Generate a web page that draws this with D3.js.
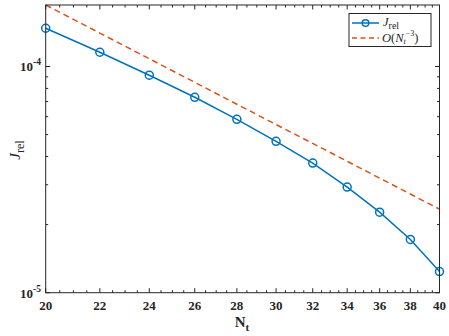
<!DOCTYPE html>
<html>
<head>
<meta charset="utf-8">
<script src="https://cdn.jsdelivr.net/npm/d3@7"></script>
<style>
  body { margin: 0; background: #fff; }
  svg text { font-family: 'Liberation Serif', 'DejaVu Serif', serif; fill: #262626; }
</style>
</head>
<body>
<script>
'use strict';

// chart values
let nValues = [20, 22, 24, 26, 28, 30, 32, 34, 36, 38, 40];
let jRel = [1.476e-4, 1.156e-4, 9.15e-5, 7.31e-5, 5.84e-5, 4.67e-5, 3.74e-5, 2.93e-5, 2.27e-5, 1.72e-5, 1.24e-5];
let refOrder = [1.87e-4, 1.405e-4, 1.082e-4, 8.51e-5, 6.81e-5, 5.54e-5, 4.57e-5, 3.81e-5, 3.21e-5, 2.73e-5, 2.34e-5];
let xTicks = [20, 22, 24, 26, 28, 30, 32, 34, 36, 38, 40];
let yTicks = [1e-5, 1e-4];
let yTickExp = ["-5", "-4"];
let yMinor = [2e-5, 3e-5, 4e-5, 5e-5, 6e-5, 7e-5, 8e-5, 9e-5];

(function() {

  let width = 449, height = 336;
  let plot = {left: 45.7, right: 439.5, top: 5, bottom: 292.7};
  let blue = "#0072BD", orange = "#D95319", axisColor = "#262626";
  let serif = "'Liberation Serif', 'DejaVu Serif', serif";

  let svg = d3.select('body')
    .append('svg')
    .attr('width', width)
    .attr('height', height)
    .attr('font-family', serif);

  let xScale = d3.scaleLog()
    .domain([20, 40])
    .range([plot.left, plot.right]);

  let yScale = d3.scaleLog()
    .domain([1e-5, 1.87e-4])
    .range([plot.bottom, plot.top]);

  // minor x ticks every 0.5
  let xMinor = d3.range(20.5, 40, 0.5).filter((v) => v % 2 != 0);

  let line = d3.line()
    .x((d, i) => xScale(nValues[i]))
    .y((d) => yScale(d));

  // reference line O(N^-3)
  svg.append('path')
    .datum(refOrder)
    .attr('fill', 'none')
    .attr('stroke', orange)
    .attr('stroke-width', 1.5)
    .attr('stroke-dasharray', '6,4')
    .attr('d', line);

  // J_rel line + markers
  svg.append('path')
    .datum(jRel)
    .attr('fill', 'none')
    .attr('stroke', blue)
    .attr('stroke-width', 1.5)
    .attr('d', line);

  svg.selectAll('.dot')
    .data(jRel)
    .enter()
    .append('circle')
      .attr('class', 'dot')
      .attr('cx', (d, i) => xScale(nValues[i]))
      .attr('cy', (d) => yScale(d))
      .attr('r', 4)
      .attr('fill', 'none')
      .attr('stroke', blue)
      .attr('stroke-width', 1.5);

  // axes box
  let axes = svg.append('g')
    .attr('stroke', axisColor)
    .attr('stroke-width', 1);

  // x ticks (bottom + top, pointing inward)
  function xTick(v, len) {
    let x = xScale(v);
    axes.append('line').attr('x1', x).attr('x2', x)
      .attr('y1', plot.bottom).attr('y2', plot.bottom - len);
    axes.append('line').attr('x1', x).attr('x2', x)
      .attr('y1', plot.top).attr('y2', plot.top + len);
  }
  xTicks.forEach((v) => xTick(v, 4.5));
  xMinor.forEach((v) => xTick(v, 2.5));

  // y ticks (left + right)
  function yTick(v, len) {
    let y = yScale(v);
    axes.append('line').attr('x1', plot.left).attr('x2', plot.left + len)
      .attr('y1', y).attr('y2', y);
    axes.append('line').attr('x1', plot.right).attr('x2', plot.right - len)
      .attr('y1', y).attr('y2', y);
  }
  yTicks.forEach((v) => yTick(v, 4.5));
  yMinor.forEach((v) => yTick(v, 2.5));

  axes.append('rect')
    .attr('x', plot.left)
    .attr('y', plot.top)
    .attr('width', plot.right - plot.left)
    .attr('height', plot.bottom - plot.top)
    .attr('fill', 'none');

  // x tick labels
  svg.selectAll('.xlabel')
    .data(xTicks)
    .enter()
    .append('text')
      .attr('class', 'xlabel')
      .attr('x', (d) => xScale(d))
      .attr('y', 310)
      .attr('text-anchor', 'middle')
      .attr('font-family', serif)
      .style('font-size', '13px')
      .style('font-weight', 'bold')
      .text((d) => d);

  // y tick labels 10^k
  yTicks.forEach((v, i) => {
    let t = svg.append('text')
      .attr('x', 41)
      .attr('y', yScale(v) + 5)
      .attr('text-anchor', 'end')
      .attr('font-family', serif)
      .style('font-size', '13px')
      .style('font-weight', 'bold');
    t.append('tspan').text('10');
    t.append('tspan')
      .attr('dy', -6)
      .style('font-size', '9.5px')
      .text(yTickExp[i]);
  });

  // axis titles
  let xt = svg.append('text')
    .attr('x', 242)
    .attr('y', 327)
    .attr('text-anchor', 'middle')
    .attr('font-family', serif)
    .style('font-size', '15px')
    .style('font-weight', 'bold');
  xt.append('tspan').text('N');
  xt.append('tspan').attr('dy', 4).style('font-size', '11px').text('t');

  let yt = svg.append('text')
    .attr('transform', 'translate(20, 150)rotate(-90)')
    .attr('text-anchor', 'middle')
    .attr('font-family', serif)
    .style('font-size', '15px');
  yt.append('tspan').style('font-style', 'italic').text('J');
  yt.append('tspan').attr('dy', 4).style('font-size', '12px').text('rel');

  // legend
  let leg = svg.append('g');
  leg.append('rect')
    .attr('x', 349)
    .attr('y', 13.5)
    .attr('width', 82)
    .attr('height', 33)
    .attr('fill', '#fff')
    .attr('stroke', axisColor)
    .attr('stroke-width', 1);

  leg.append('line')
    .attr('x1', 352).attr('x2', 379).attr('y1', 23).attr('y2', 23)
    .attr('stroke', blue).attr('stroke-width', 1.5);
  leg.append('circle')
    .attr('cx', 365.5).attr('cy', 23).attr('r', 3.3)
    .attr('fill', 'none').attr('stroke', blue).attr('stroke-width', 1.5);
  leg.append('line')
    .attr('x1', 352).attr('x2', 379).attr('y1', 38).attr('y2', 38)
    .attr('stroke', orange).attr('stroke-width', 1.5)
    .attr('stroke-dasharray', '5,3.5');

  let l1 = leg.append('text')
    .attr('x', 383)
    .attr('y', 26)
    .attr('font-family', serif)
    .style('font-size', '12.5px');
  l1.append('tspan').style('font-style', 'italic').text('J');
  l1.append('tspan').attr('dy', 3).style('font-size', '10px').text('rel');

  let l2 = leg.append('text')
    .attr('x', 382)
    .attr('y', 42)
    .attr('font-family', serif)
    .style('font-size', '12.5px');
  l2.append('tspan').style('font-style', 'italic').text('O');
  l2.append('tspan').text('(');
  l2.append('tspan').style('font-style', 'italic').text('N');
  l2.append('tspan').attr('dy', 2).style('font-size', '8px').style('font-style', 'italic').text('t');
  l2.append('tspan').attr('dy', -8).style('font-size', '8px').text('−3');
  l2.append('tspan').attr('dy', 6).text(')');
})();
</script>
</body>
</html>
